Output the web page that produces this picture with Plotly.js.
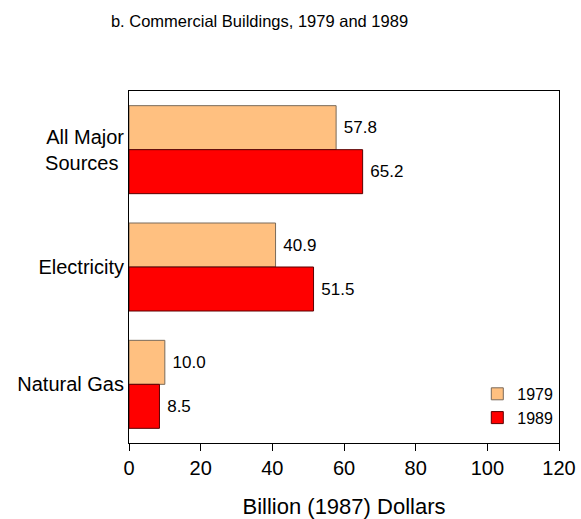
<!DOCTYPE html>
<html>
<head>
<meta charset="utf-8">
<script src="https://cdn.plot.ly/plotly-3.0.1.min.js"></script>
<style>html,body{margin:0;padding:0;background:#fff;}#chart{width:581px;height:519px;}</style>
</head>
<body>
<div id="chart"></div>
<script>
const categories = ["All Major<br>Sources ", "Electricity", "Natural Gas"];
const seriesNames = ["1979", "1989"];
const values1979 = [57.8, 40.9, 10.0];
const values1989 = [65.2, 51.5, 8.5];
const xTickVals = [0, 20, 40, 60, 80, 100, 120];

const fontFam = "Liberation Sans, Arial, sans-serif";

const traces = [
  {
    type: "bar", orientation: "h", name: seriesNames[0],
    y: categories, x: values1979,
    text: values1979.map(v => "\u00a0" + v.toFixed(1)), textposition: "outside",
    textfont: {size: 17, color: "#000", family: fontFam},
    marker: {color: "#FFC080", line: {color: "#7a6a5a", width: 1}},
    cliponaxis: false
  },
  {
    type: "bar", orientation: "h", name: seriesNames[1],
    y: categories, x: values1989,
    text: values1989.map(v => "\u00a0" + v.toFixed(1)), textposition: "outside",
    textfont: {size: 17, color: "#000", family: fontFam},
    marker: {color: "#FF0000", line: {color: "#5a0000", width: 1}},
    cliponaxis: false
  }
];

const layout = {
  width: 581, height: 519,
  margin: {l: 129, r: 22, t: 91, b: 76, pad: 0},
  paper_bgcolor: "#fff", plot_bgcolor: "#fff",
  font: {family: fontFam, color: "#000"},
  title: {
    text: "b. Commercial Buildings, 1979 and 1989",
    font: {family: fontFam, size: 16.5, color: "#000"},
    x: 0.4466, xref: "container", xanchor: "center",
    y: 0.96, yref: "container", yanchor: "middle"
  },
  barmode: "group", bargap: 0.25, bargroupgap: 0,
  xaxis: {
    range: [0, 120], tickvals: xTickVals, ticktext: xTickVals.map(String),
    ticks: "outside", ticklen: 7, tickcolor: "#000", tickwidth: 1,
    showgrid: false, zeroline: false,
    showline: true, linecolor: "#000", linewidth: 1, mirror: true,
    tickfont: {size: 20, color: "#000"},
    title: {text: "Billion (1987) Dollars", font: {size: 22, color: "#000"}, standoff: 20}
  },
  yaxis: {
    type: "category", autorange: "reversed",
    ticks: "", showgrid: false, zeroline: false,
    showline: true, linecolor: "#000", linewidth: 1, mirror: true,
    tickfont: {size: 20, color: "#000"}, ticklabelstandoff: 0
  },
  showlegend: true,
  legend: {
    x: 0.81, y: 0.023, xanchor: "left", yanchor: "bottom",
    bgcolor: "rgba(0,0,0,0)", borderwidth: 0,
    font: {size: 16, color: "#000"}, traceorder: "normal"
  }
};

Plotly.newPlot("chart", traces, layout, {displayModeBar: false, staticPlot: true});
</script>
</body>
</html>
